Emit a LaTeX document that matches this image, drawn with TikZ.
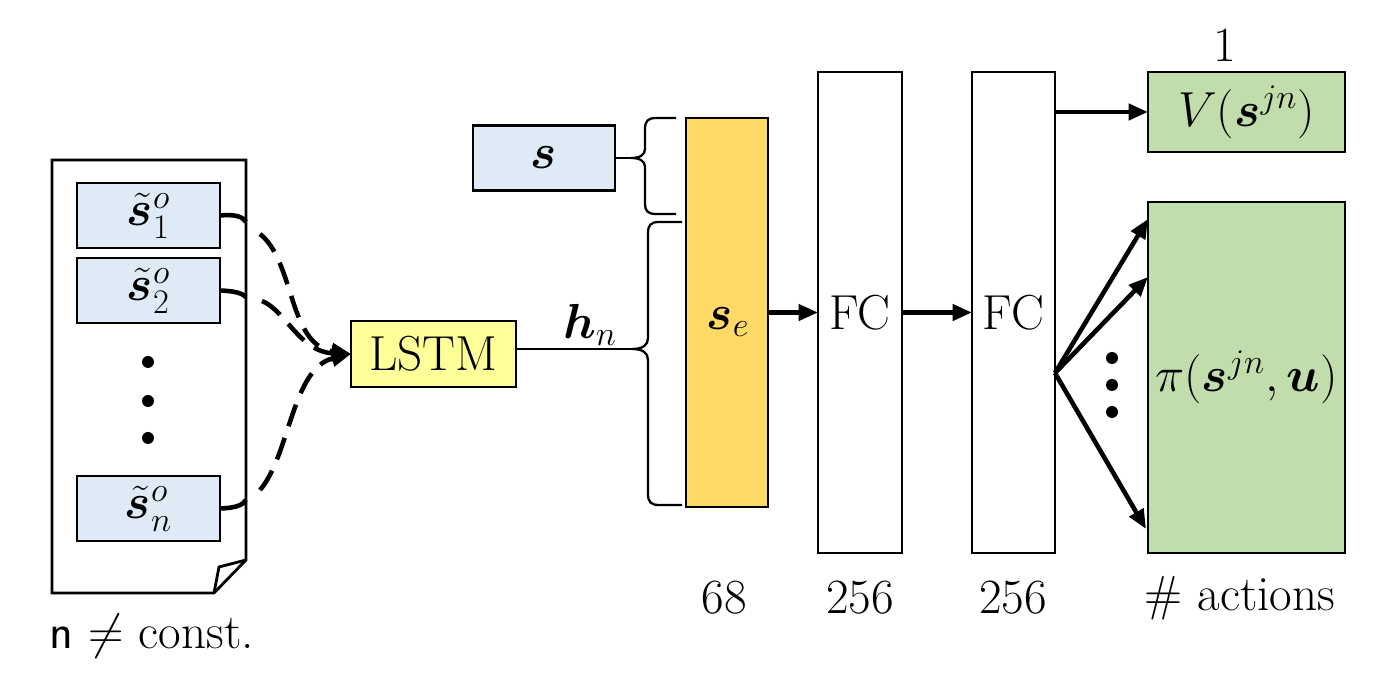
\documentclass[tikz,border=0pt]{standalone}
\usepackage{fix-cm}
\usepackage{amsmath,bm}
\usetikzlibrary{arrows.meta,calc}
\definecolor{lblue}{RGB}{222,235,247}
\definecolor{lyell}{RGB}{255,255,153}
\definecolor{gold}{RGB}{255,217,102}
\definecolor{lgreen}{RGB}{193,221,172}
\begin{document}
\begin{tikzpicture}[x=0.02cm,y=-0.02cm,
 every node/.style={font=\fontsize{28}{33}\selectfont},
 box/.style={draw,line width=1.6pt,inner sep=0pt,outer sep=0pt},
 arr/.style={line width=2.6pt,-{Triangle[length=11pt,width=9pt]}},
 dsh/.style={line width=2.6pt,dash pattern=on 13pt off 7pt,-{Triangle[length=11pt,width=9pt]}},
 sld/.style={line width=2.6pt},
 brc/.style={line width=1.3pt},
 dotn/.style={circle,fill,inner sep=0pt,minimum size=0.24cm}]
\useasboundingbox (0,0) rectangle (1384,688);
% document shape
\draw[line width=1.6pt,fill=white] (52,160) -- (246,160) -- (246,560) -- (214,593) -- (52,593) -- cycle;
\draw[line width=1.6pt] (214,593) -- (219,567) -- (246,560);
% observation boxes
\node[box,fill=lblue,minimum width=2.86cm,minimum height=1.3cm] (o1) at (148.5,215.5) {$\tilde{\bm{s}}^{o}_{1}$};
\node[box,fill=lblue,minimum width=2.86cm,minimum height=1.3cm] (o2) at (148.5,290.5) {$\tilde{\bm{s}}^{o}_{2}$};
\node[box,fill=lblue,minimum width=2.86cm,minimum height=1.3cm] (on) at (148.5,508.5) {$\tilde{\bm{s}}^{o}_{n}$};
\node[dotn] (dA) at (148,362) {};
\node[dotn] (dB) at (148,401) {};
\node[dotn] (dC) at (148,438) {};
\node (nc) at (152,636) {\textsf{n} $\neq$ const.};
% LSTM
\node[box,fill=lyell,minimum width=3.3cm,minimum height=1.32cm] (L) at (433.5,354) {LSTM};
% connectors obs -> LSTM
\coordinate (e1) at (246,222); \coordinate (d1) at (260,234);
\coordinate (e2) at (246,297); \coordinate (d2) at (262,301);
\coordinate (en) at (246,500); \coordinate (dn) at (260,490);
\draw[sld] (o1.east) .. controls (236,214) and (243,217) .. (e1);
\draw[sld] (o2.east) .. controls (234,291) and (242,293) .. (e2);
\draw[sld] (on.east) .. controls (236,508) and (243,505) .. (en);
\draw[dsh] (d1) .. controls (295,262) and (288,345) .. (L.west);
\draw[dsh] (d2) .. controls (285,310) and (300,352) .. (L.west);
\draw[dsh] (dn) .. controls (290,455) and (292,368) .. (L.west);
% s box
\node[box,fill=lblue,minimum width=2.84cm,minimum height=1.3cm] (s) at (544,158) {$\bm{s}$};
% braces
\coordinate (b1) at (631,158);
\draw[brc] (676,118) -- (656,118) .. controls (648,118) and (645,121) .. (645,129) -- (645,149) .. controls (645,155) and (640,158) .. (b1) .. controls (640,158) and (645,161) .. (645,167) -- (645,204) .. controls (645,211) and (648,214) .. (656,214) -- (676,214);
\draw[brc] (s.east) -- (b1);
\coordinate (b2) at (632,349);
\draw[brc] (682,222) -- (659,222) .. controls (651,222) and (648,225) .. (648,233) -- (648,338) .. controls (648,345) and (643,349) .. (b2) .. controls (643,349) and (648,353) .. (648,360) -- (648,494) .. controls (648,502) and (651,505) .. (659,505) -- (682,505);
\draw[brc] (L.east |- b2) -- (b2);
\node (hn) at (590,325) {$\bm{h}_{n}$};
% s_e
\node[box,fill=gold,minimum width=1.64cm,minimum height=7.78cm] (se) at (727,312.5) {};
\node (selab) at (728,322) {$\bm{s}_{e}$};
% FC layers
\node[box,fill=white,minimum width=1.68cm,minimum height=9.62cm] (fc1) at (860,312.5) {FC};
\node[box,fill=white,minimum width=1.66cm,minimum height=9.62cm] (fc2) at (1013.5,312.5) {FC};
% outputs
\node[box,fill=lgreen,minimum width=3.94cm,minimum height=1.6cm] (V) at (1246.5,112) {$V(\bm{s}^{jn})$};
\node[box,fill=lgreen,minimum width=3.94cm,minimum height=7.02cm] (pi) at (1246.5,377.5) {$\pi(\bm{s}^{jn},\bm{u})$};
% arrows
\draw[arr] (se.east) -- (fc1.west);
\draw[arr] (fc1.east) -- (fc2.west);
\draw[arr] (fc2.east |- V.west) -- (V.west);
\coordinate (fan) at (1055,373);
\coordinate (t1) at (1148,219);
\coordinate (t2) at (1148,277);
\coordinate (t3) at (1146,529);
\draw[arr] (fan) -- (t1);
\draw[arr] (fan) -- (t2);
\draw[arr] (fan) -- (t3);
\node[dotn] (fA) at (1112,358) {};
\node[dotn] (fB) at (1112,385) {};
\node[dotn] (fC) at (1112,412) {};
% labels
\node (l68) at (724,598) {68};
\node (l256a) at (860,598) {256};
\node (l256b) at (1013,598) {256};
\node (lact) at (1240,598) {\# actions};
\node (l1) at (1225,45) {1};
\end{tikzpicture}
\end{document}
